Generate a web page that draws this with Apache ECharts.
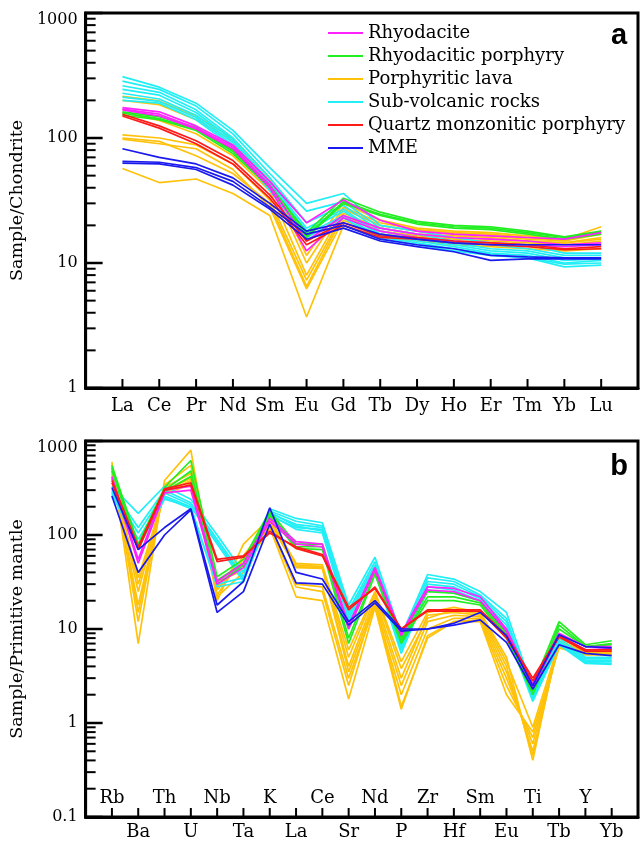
<!DOCTYPE html>
<html>
<head>
<meta charset="utf-8">
<script src="https://cdn.jsdelivr.net/npm/echarts@6/dist/echarts.min.js"></script>
<style>html,body{margin:0;padding:0;background:#fff;}#c{width:641px;height:843px;}</style>
</head>
<body>
<div id="c"></div>
<script>
// ---------- categories ----------
const reeElements = ['La','Ce','Pr','Nd','Sm','Eu','Gd','Tb','Dy','Ho','Er','Tm','Yb','Lu'];
const spiderElements = ['Rb','Ba','Th','U','Nb','Ta','K','La','Ce','Sr','Nd','P','Zr','Hf','Sm','Eu','Ti','Tb','Y','Yb'];
const groupNames = ['Rhyodacite','Rhyodacitic porphyry','Porphyritic lava','Sub-volcanic rocks','Quartz monzonitic porphyry','MME'];
const reeTickValues = [1, 10, 100, 1000];
const spiderTickValues = [0.1, 1, 10, 100, 1000];
const minorFactors = [2,3,4,5,6,7,8,9];

// ---------- panel a: chondrite-normalised REE ----------
const reeRhyodacite = [
  [175,162,125,88,45,21,32,22,18,17,16.5,16,15.5,17.5],
  [170,155,120,85,42,15,24,19,17,16,15.5,15,14,14.5],
  [168,150,118,82,40,12.5,23,18,16,15,14.5,14,13.5,14]
];
const reeRhyodaciticPorphyry = [
  [162,148,122,80,42,17.5,33,25.5,21.5,20,19.5,18,16.2,18],
  [158,143,118,78,41,16.5,31,24.5,21,19.5,19,17.5,16,17.5],
  [152,140,115,75,40,16,30,24,20.5,19,18.5,17,15.5,17]
];
const reePorphyriticLava = [
  [215,198,150,100,48,11.5,30,22,19,18,17.5,16.5,15.5,19.5],
  [200,185,140,95,45,10,28,21,18.5,17.5,17,16,15,18],
  [106,100,88,62,32,7.3,25,19,17,16.5,16,15,14.5,16],
  [100,94,72,52,30,6.5,24,18,16.5,16,15.5,15,14.5,15.5],
  [98,90,82,56,28,6.2,22,17,16,15.5,15,14.5,14,15],
  [57,44,47,36,24,3.7,20,16,15,14,13.5,13,12.5,13],
  [160,138,108,72,38,8,27,20,18,17,16.5,15.5,15,17]
];
const reeSubVolcanic = [
  [310,255,190,115,58,30,36,20,18,16,14.5,14,12,12],
  [285,245,180,108,52,26,31,19,17,15,14,13,11.5,11.5],
  [262,232,168,100,48,21,29,18,16,14.5,13,12.5,11,11],
  [245,220,160,96,45,19,27,17,15.5,14,12.5,12,10.5,10.8],
  [228,205,152,92,43,18,26,16.5,15,13.5,12,11.5,10,10.5],
  [212,196,146,88,40,17,24,16,14.5,13,11.8,11,9.8,10],
  [200,190,140,85,38,16,23,15.5,14,12.5,11.5,11,9.3,9.6]
];
const reeQuartzMonzonitic = [
  [155,125,95,66,35,15,21,16.5,16,15,14.5,14,13,13.5],
  [150,120,90,62,33,14,20,16,15.5,14.5,14,13.5,12.8,13]
];
const reeMME = [
  [82,70,62,48,30,18,21,17,15.5,14.5,14,14,14,14],
  [65,64,58,45,28,17,20,15.5,14,13,11.5,11.2,11,11],
  [63,62,56,42,27,15.5,19,15,13.5,12.3,10.5,10.8,10.8,10.8]
];

// ---------- panel b: primitive-mantle-normalised spider ----------
const spRhyodacite = [
  [420,55,300,330,32,50,150,85,80,11,45,9,28,27,22,10,2.6,9,6.5,6.5],
  [400,50,280,300,30,45,140,80,75,10,42,8.5,26,25,20,9.5,2.4,8.5,6,6.2]
];
const spRhyodaciticPorphyry = [
  [550,80,320,620,36,55,180,80,80,10,45,8,25,24,20,9,2.5,12,6.8,7.5],
  [520,75,300,480,33,50,170,75,75,8,40,7.5,22,22,19,8.5,2.2,11,6.5,7],
  [480,70,290,420,30,48,160,72,70,7,38,7,20,20,18,8,2.0,10,6.5,6.8]
];
const spPorphyriticLava = [
  [600,7,380,800,20,80,150,50,48,6,25,4.5,15,17,15,5,0.4,8,6,6],
  [560,12,340,550,23,60,140,46,45,4,22,3,14,15,14,4,0.45,7.5,5.8,5.8],
  [520,15,320,450,26,55,135,45,44,3.5,20,2.5,12,14,13.5,3.5,0.5,7,5.6,5.6],
  [480,18,300,400,28,50,130,30,28,3,18,2,10,13,13,3,0.6,6.8,5.5,5.5],
  [450,25,280,380,30,45,125,28,25,2.5,20,1.5,8,12,12.5,2.5,0.7,6.5,5.4,5.4],
  [420,35,270,350,32,42,120,22,20,1.8,17,1.4,8.5,12,12,2,0.8,6.3,5.3,5.3],
  [500,30,290,420,22,40,145,48,46,5,24,3.8,13,16,14.5,4.5,0.9,7.2,5.7,5.7]
];
const spSubVolcanic = [
  [330,170,330,240,100,40,190,150,135,18,58,8.5,38,34,25,15,2.3,8,5,5],
  [310,120,300,220,90,36,180,140,125,16,52,8,35,32,23,13,2.1,7.5,4.8,4.8],
  [300,105,280,210,85,34,170,130,120,15,48,7,32,30,22,12,2.0,7.2,4.6,4.6],
  [290,90,260,200,80,32,160,120,115,14,45,6.5,30,28,21,11,1.9,7,4.5,4.5],
  [280,80,250,190,30,35,175,125,110,13,42,6,28,26,20,10,1.8,7,4.4,4.3],
  [270,75,240,200,28,32,165,115,105,12,40,5.5,26,24,20,9.5,1.7,6.8,4.3,4.2]
];
const spQuartzMonzonitic = [
  [380,75,310,360,55,60,105,75,62,17,27,10,16,16,16,8.5,3.0,8.5,6,6],
  [360,70,300,340,52,58,110,72,60,16,28,10,15.5,15.5,15.5,8,2.8,8.2,5.8,5.8]
];
const spMME = [
  [320,70,120,190,18,32,195,40,34,12,20,10,10,11.5,15,8.5,2.5,8.7,6.5,6.3],
  [260,40,100,185,15,25,130,31,30,11,19,9.5,10,11,12.5,7.2,2.3,6.8,5.5,5.2]
];

// ---------- styling ----------
const groupColors = {
  'Rhyodacite':'#ff22ff',
  'Rhyodacitic porphyry':'#22ee22',
  'Porphyritic lava':'#ffc20a',
  'Sub-volcanic rocks':'#22eef5',
  'Quartz monzonitic porphyry':'#ff1a1a',
  'MME':'#1a1aee'
};
const serif = 'DejaVu Serif';

function lineSeries(name, rows, xi, yi) {
  return rows.map(r => ({
    type: 'line', name: name, xAxisIndex: xi, yAxisIndex: yi,
    data: r.map((v, i) => [i, v]),
    symbol: 'none', showSymbol: false, silent: true,
    lineStyle: { width: 1.7, color: groupColors[name] },
    itemStyle: { color: groupColors[name] },
    emphasis: { disabled: true }
  }));
}

const series = [
  ...lineSeries('Porphyritic lava', reePorphyriticLava, 0, 0),
  ...lineSeries('Sub-volcanic rocks', reeSubVolcanic, 0, 0),
  ...lineSeries('Rhyodacitic porphyry', reeRhyodaciticPorphyry, 0, 0),
  ...lineSeries('Rhyodacite', reeRhyodacite, 0, 0),
  ...lineSeries('Quartz monzonitic porphyry', reeQuartzMonzonitic, 0, 0),
  ...lineSeries('MME', reeMME, 0, 0),
  ...lineSeries('Porphyritic lava', spPorphyriticLava, 1, 1),
  ...lineSeries('Sub-volcanic rocks', spSubVolcanic, 1, 1),
  ...lineSeries('Rhyodacitic porphyry', spRhyodaciticPorphyry, 1, 1),
  ...lineSeries('Rhyodacite', spRhyodacite, 1, 1),
  ...lineSeries('Quartz monzonitic porphyry', spQuartzMonzonitic, 1, 1),
  ...lineSeries('MME', spMME, 1, 1)
];

const fmtNum = v => String(+Number(v).toPrecision(6));
const fmtY = maxV => v => {
  const s = fmtNum(v);
  return (+v === maxV) ? '{top|' + s + '}' : s;
};
const axisLineStyle = { show: true, onZero: false, lineStyle: { color: '#000', width: 3 } };
const yLabelStyle = maxV => ({
  show: true, margin: 8, color: '#000', fontFamily: serif, fontSize: 16, formatter: fmtY(maxV),
  rich: { top: { fontFamily: serif, fontSize: 16, color: '#000', padding: [13, 0, 0, 0] } }
});

const panelLetters = [
  { type: 'text', x: 619, y: 36, silent: true,
    style: { text: 'a', align: 'center', verticalAlign: 'middle', fontSize: 29, fontWeight: 'bold', fontFamily: 'Liberation Sans', fill: '#000' } },
  { type: 'text', x: 619, y: 467, silent: true,
    style: { text: 'b', align: 'center', verticalAlign: 'middle', fontSize: 29, fontWeight: 'bold', fontFamily: 'Liberation Sans', fill: '#000' } }
];

const option = {
  animation: false,
  backgroundColor: '#fff',
  grid: [
    { left: 80, top: 13, width: 559, height: 375, show: true, borderColor: '#000', borderWidth: 3 },
    { left: 80, top: 441, width: 559, height: 376, show: true, borderColor: '#000', borderWidth: 3 }
  ],
  xAxis: [
    { gridIndex: 0, type: 'value', position: 'bottom', min: -1, max: reeElements.length, interval: 1,
      axisLine: axisLineStyle, splitLine: { show: false }, axisTick: { show: false },
      axisLabel: { show: true, margin: 9, color: '#000', fontFamily: serif, fontSize: 18,
        formatter: v => reeElements[v] || '' } },
    { gridIndex: 1, type: 'value', position: 'bottom', min: -1, max: spiderElements.length, interval: 1,
      axisLine: axisLineStyle, splitLine: { show: false }, axisTick: { show: false },
      axisLabel: { show: true, inside: true, margin: 10, color: '#000', fontFamily: serif, fontSize: 18,
        formatter: v => (v >= 0 && v % 2 === 0) ? (spiderElements[v] || '') : '' } },
    { gridIndex: 1, type: 'value', position: 'bottom', offset: 0, min: -1, max: spiderElements.length, interval: 1,
      axisLine: { show: false, onZero: false }, splitLine: { show: false }, axisTick: { show: false },
      axisLabel: { show: true, margin: 6, color: '#000', fontFamily: serif, fontSize: 18,
        formatter: v => (v % 2 === 1) ? (spiderElements[v] || '') : '' } }
  ],
  yAxis: [
    { gridIndex: 0, type: 'log', logBase: 10, position: 'left',
      min: reeTickValues[0], max: reeTickValues[reeTickValues.length - 1],
      axisLine: axisLineStyle, splitLine: { show: false }, axisTick: { show: false },
      axisLabel: yLabelStyle(1000),
      name: 'Sample/Chondrite', nameLocation: 'middle', nameGap: 52,
      nameTextStyle: { fontFamily: serif, fontSize: 17.5, color: '#000' } },
    { gridIndex: 1, type: 'log', logBase: 10, position: 'left',
      min: spiderTickValues[0], max: spiderTickValues[spiderTickValues.length - 1],
      axisLine: axisLineStyle, splitLine: { show: false }, axisTick: { show: false },
      axisLabel: yLabelStyle(1000),
      name: 'Sample/Primitive mantle', nameLocation: 'middle', nameGap: 52,
      nameTextStyle: { fontFamily: serif, fontSize: 17.5, color: '#000' } }
  ],
  legend: {
    data: groupNames, orient: 'vertical', left: 328, top: 24,
    icon: 'rect', itemWidth: 35, itemHeight: 2, itemGap: 5, padding: 0,
    selectedMode: false,
    textStyle: { fontFamily: serif, fontSize: 18, color: '#000' }
  },
  graphic: panelLetters,
  series: series
};

const chart = echarts.init(document.getElementById('c'), null, { renderer: 'canvas' });
chart.setOption(option);

// ---------- axis tick marks, positioned through the axes' own scales ----------
function tickRect(x, y, w, h) {
  return { type: 'rect', silent: true, z: 100, zlevel: 1,
    shape: { x: x, y: y, width: w, height: h },
    style: { fill: '#000' } };
}
function panelTicks(axisIdx, tickValues, cats) {
  const finder = { xAxisIndex: axisIdx, yAxisIndex: axisIdx };
  const out = [];
  const yOf = v => chart.convertToPixel(finder, [0, v])[1];
  const leftX = chart.convertToPixel(finder, [-1, tickValues[0] * 2])[0];
  // pixel of a decade value found from its x2 / x4 neighbours (equal log steps)
  const decadeY = (v, isTop) => isTop
    ? 2 * yOf(v / 2) - yOf(v / 4)
    : 2 * yOf(v * 2) - yOf(v * 4);
  const last = tickValues.length - 1;
  // major ticks on the log axis
  tickValues.forEach((v, k) => {
    const y = decadeY(v, k === last);
    if (isFinite(y)) out.push(tickRect(leftX, y - 1.25, 17, 2.5));
  });
  // minor ticks at 2..9 of every decade
  for (let k = 0; k < last; k++) {
    minorFactors.forEach(f => {
      const y = yOf(tickValues[k] * f);
      if (isFinite(y)) out.push(tickRect(leftX, y - 1, 10, 2));
    });
  }
  // category ticks on the bottom axis
  const bottomY = decadeY(tickValues[0], false);
  cats.forEach((c, i) => {
    const x = chart.convertToPixel(finder, [i, tickValues[0] * 2])[0];
    if (isFinite(x) && isFinite(bottomY)) out.push(tickRect(x - 1, bottomY - 9, 2, 9));
  });
  return out;
}
chart.setOption({
  graphic: [
    ...panelLetters,
    ...panelTicks(0, reeTickValues, reeElements),
    ...panelTicks(1, spiderTickValues, spiderElements)
  ]
});
</script>
</body>
</html>
